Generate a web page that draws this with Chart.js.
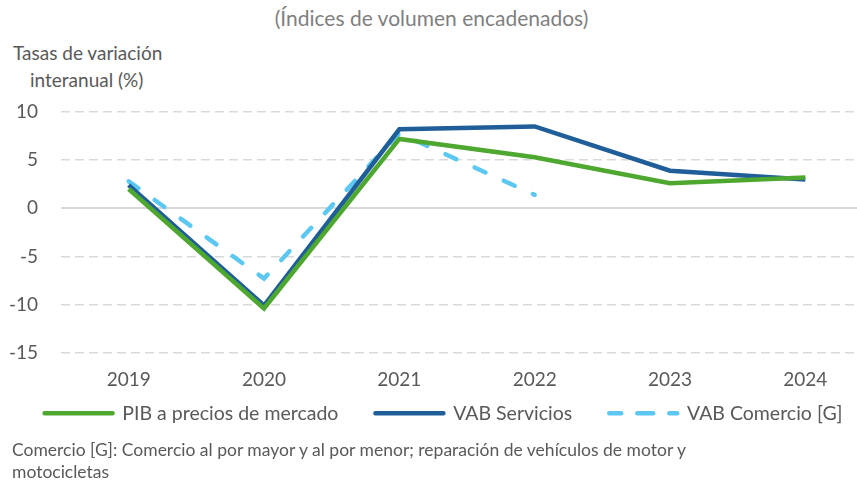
<!DOCTYPE html>
<html>
<head>
<meta charset="utf-8">
<script src="https://cdn.jsdelivr.net/npm/chart.js@4"></script>
<style>
  body { margin: 0; width: 857px; height: 481px; overflow: hidden; position: relative; background: #fff; font-family: Lato, sans-serif; }
  #wrap { position: absolute; left: 0; top: 0; width: 873px; height: 466px; }
  .txt { position: absolute; white-space: nowrap; }
  #title { left: 0; width: 863px; top: 5px; text-align: center; font-size: 21px; line-height: 26px; color: #7f7f7f; }
  #ylab1 { left: 13px; top: 41px; font-size: 19px; line-height: 24px; color: #595959; }
  #ylab2 { left: 30px; top: 68px; font-size: 19px; line-height: 24px; color: #595959; }
  #note { left: 12px; top: 439px; font-size: 17.5px; line-height: 22px; color: #595959; }
</style>
</head>
<body>
<div id="title" class="txt">(Índices de volumen encadenados)</div>
<div id="ylab1" class="txt">Tasas de variación</div>
<div id="ylab2" class="txt">interanual (%)</div>
<div id="wrap"><canvas id="mycanvas" width="873" height="466"></canvas></div>
<div id="note" class="txt">Comercio [G]: Comercio al por mayor y al por menor; reparación de vehículos de motor y<br>motocicletas</div>
<script>
var years = ["2019", "2020", "2021", "2022", "2023", "2024"];
var pib = [2.0, -10.4, 7.2, 5.3, 2.6, 3.2];
var servicios = [2.4, -10.1, 8.2, 8.5, 3.9, 3.0];
var comercio = [2.8, -7.3, 7.8, 1.4, null, null];
var yTicks = [10, 5, 0, -5, -10, -15];

// the legend sits closer to the axis labels than chart.js would put it
var legendShift = {
    id: 'legendShift',
    afterLayout: function(chart) {
        var lg = chart.legend;
        lg.top -= 33; lg.bottom -= 33;
        lg.left += 7; lg.right += 7;
    }
};

var ctx = document.getElementById("mycanvas");
var chart = new Chart(ctx, {
    type: 'line',
    data: {
        labels: years,
        datasets: [{
            label: 'PIB a precios de mercado',
            data: pib,
            borderColor: '#4EA72E',
            backgroundColor: '#4EA72E',
            borderWidth: 4.5
        }, {
            label: 'VAB Servicios',
            data: servicios,
            borderColor: '#1F5E99',
            backgroundColor: '#1F5E99',
            borderWidth: 4.5
        }, {
            label: 'VAB Comercio [G]',
            data: comercio,
            borderColor: '#5CC8F2',
            backgroundColor: '#5CC8F2',
            borderWidth: 4.5,
            borderDash: [12, 20],
            borderCapStyle: 'round'
        }]
    },
    plugins: [legendShift],
    options: {
        responsive: false,
        animation: false,
        devicePixelRatio: 1,
        elements: { point: { radius: 0 }, line: { tension: 0 } },
        layout: { padding: { top: 112, left: 0, bottom: 0 } },
        plugins: {
            tooltip: { enabled: false },
            legend: {
                position: 'bottom',
                labels: {
                    boxWidth: 68,
                    boxHeight: 0,
                    padding: 37,
                    color: '#595959',
                    font: { family: 'Lato', size: 19.5 },
                    generateLabels: function(chart) {
                        var items = Chart.defaults.plugins.legend.labels.generateLabels(chart);
                        items.forEach(function(item) {
                            var ds = chart.data.datasets[item.datasetIndex];
                            item.lineDash = ds.borderDash || [];
                            item.lineCap = 'round';
                            item.lineJoin = 'round';
                            item.lineWidth = 4.5;
                        });
                        return items;
                    }
                }
            }
        },
        scales: {
            x: {
                offset: true,
                grid: { display: false },
                border: { display: false },
                ticks: { color: '#595959', font: { family: 'Lato', size: 19 }, padding: 8 }
            },
            y: {
                min: -15,
                max: 10,
                afterFit: function(scale) { scale.width = 61; },
                afterBuildTicks: function(scale) {
                    scale.ticks = yTicks.map(function(v) { return { value: v }; });
                },
                grid: {
                    drawTicks: false,
                    color: '#D9D9D9',
                    lineWidth: function(c) { return c.tick && c.tick.value === 0 ? 2 : 1.5; }
                },
                border: {
                    display: false,
                    dash: function(c) { return c.tick && c.tick.value === 0 ? [] : [9, 5]; }
                },
                ticks: { color: '#595959', font: { family: 'Lato', size: 19 }, padding: 23 }
            }
        }
    }
});
</script>
</body>
</html>
